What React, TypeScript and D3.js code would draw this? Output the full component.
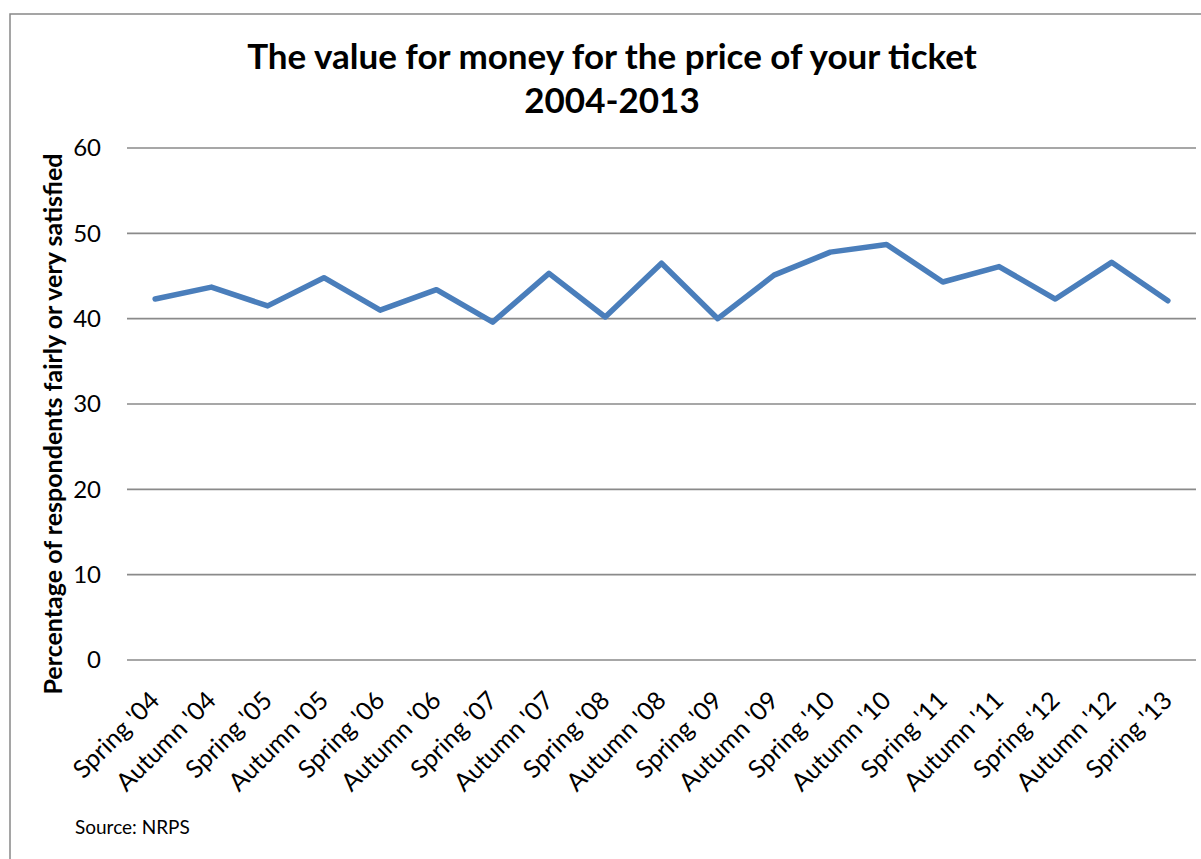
import React, { useEffect, useRef } from 'react';
import * as d3 from 'd3';

const categories = [
	"Spring '04", "Autumn '04", "Spring '05", "Autumn '05", "Spring '06", "Autumn '06",
	"Spring '07", "Autumn '07", "Spring '08", "Autumn '08", "Spring '09", "Autumn '09",
	"Spring '10", "Autumn '10", "Spring '11", "Autumn '11", "Spring '12", "Autumn '12",
	"Spring '13",
];
const satisfied = [
	42.3, 43.7, 41.5, 44.8, 41.0, 43.4, 39.6, 45.3, 40.2, 46.5,
	40.0, 45.1, 47.8, 48.7, 44.3, 46.1, 42.3, 46.6, 42.1,
];
const yTicks = [0, 10, 20, 30, 40, 50, 60];
const titleLines = ['The value for money for the price of your ticket', '2004-2013'];
const yTitle = 'Percentage of respondents fairly or very satisfied';
const sourceNote = 'Source: NRPS';

const width = 1201;
const height = 859;
const font = 'Lato, "Open Sans", sans-serif';

const App = () => {
	const ref = useRef<SVGSVGElement>(null);

	useEffect(() => {
		if (!ref.current) return;
		const svg = d3.select(ref.current);
		svg.selectAll('*').remove();

		const m = { l: 127, r: 1196, t: 148, b: 660 };

		const x = d3.scaleBand().domain(categories).range([m.l, m.r]);
		const y = d3.scaleLinear().domain([0, 60]).range([m.b, m.t]);

		// chart frame (runs off the page on right and bottom)
		svg.append('rect')
			.attr('x', 10)
			.attr('y', 14)
			.attr('width', 1230)
			.attr('height', 900)
			.attr('fill', '#fff')
			.attr('stroke', '#888')
			.attr('stroke-width', 1.5);

		// gridlines
		svg.append('g')
			.selectAll('line')
			.data(yTicks)
			.join('line')
			.attr('x1', m.l)
			.attr('x2', m.r)
			.attr('y1', d => y(d))
			.attr('y2', d => y(d))
			.attr('stroke', '#8a8a8a')
			.attr('stroke-width', 1.6);

		// y tick labels
		svg.append('g')
			.selectAll('text')
			.data(yTicks)
			.join('text')
			.attr('x', 101)
			.attr('y', d => y(d))
			.attr('dy', '0.35em')
			.attr('text-anchor', 'end')
			.style('font-family', font)
			.style('font-size', '24px')
			.attr('fill', '#000')
			.text(d => d);

		// x labels, rotated
		svg.append('g')
			.selectAll('text')
			.data(categories)
			.join('text')
			.attr('transform', d => `translate(${(x(d) as number) + x.bandwidth() / 2 + 6},${702}) rotate(-45)`)
			.attr('text-anchor', 'end')
			.style('font-family', font)
			.style('font-size', '25px')
			.attr('fill', '#000')
			.text(d => d);

		// series line
		const line = d3.line<number>()
			.x((d, i) => (x(categories[i]) as number) + x.bandwidth() / 2)
			.y(d => y(d));

		svg.append('path')
			.datum(satisfied)
			.attr('d', line)
			.attr('fill', 'none')
			.attr('stroke', '#4a7ebb')
			.attr('stroke-width', 5.5)
			.attr('stroke-linejoin', 'round')
			.attr('stroke-linecap', 'round');

		// title
		svg.append('g')
			.selectAll('text')
			.data(titleLines)
			.join('text')
			.attr('x', 612)
			.attr('y', (d, i) => 69 + i * 44)
			.attr('text-anchor', 'middle')
			.style('font-family', font)
			.style('font-size', '35px')
			.style('font-weight', 'bold')
			.attr('fill', '#000')
			.text(d => d);

		// y axis title
		svg.append('text')
			.attr('transform', 'rotate(-90)')
			.attr('x', -424)
			.attr('y', 62)
			.attr('text-anchor', 'middle')
			.style('font-family', font)
			.style('font-size', '25px')
			.style('font-weight', 'bold')
			.attr('fill', '#000')
			.text(yTitle);

		svg.append('text')
			.attr('x', 75)
			.attr('y', 834)
			.style('font-family', font)
			.style('font-size', '19px')
			.attr('fill', '#000')
			.text(sourceNote);
	}, []);

	return (
		<svg
			ref={ref}
			width={width}
			height={height}
			style={{ position: 'absolute', left: 0, top: 0, background: '#fff' }}
		/>
	);
};

export default App;
